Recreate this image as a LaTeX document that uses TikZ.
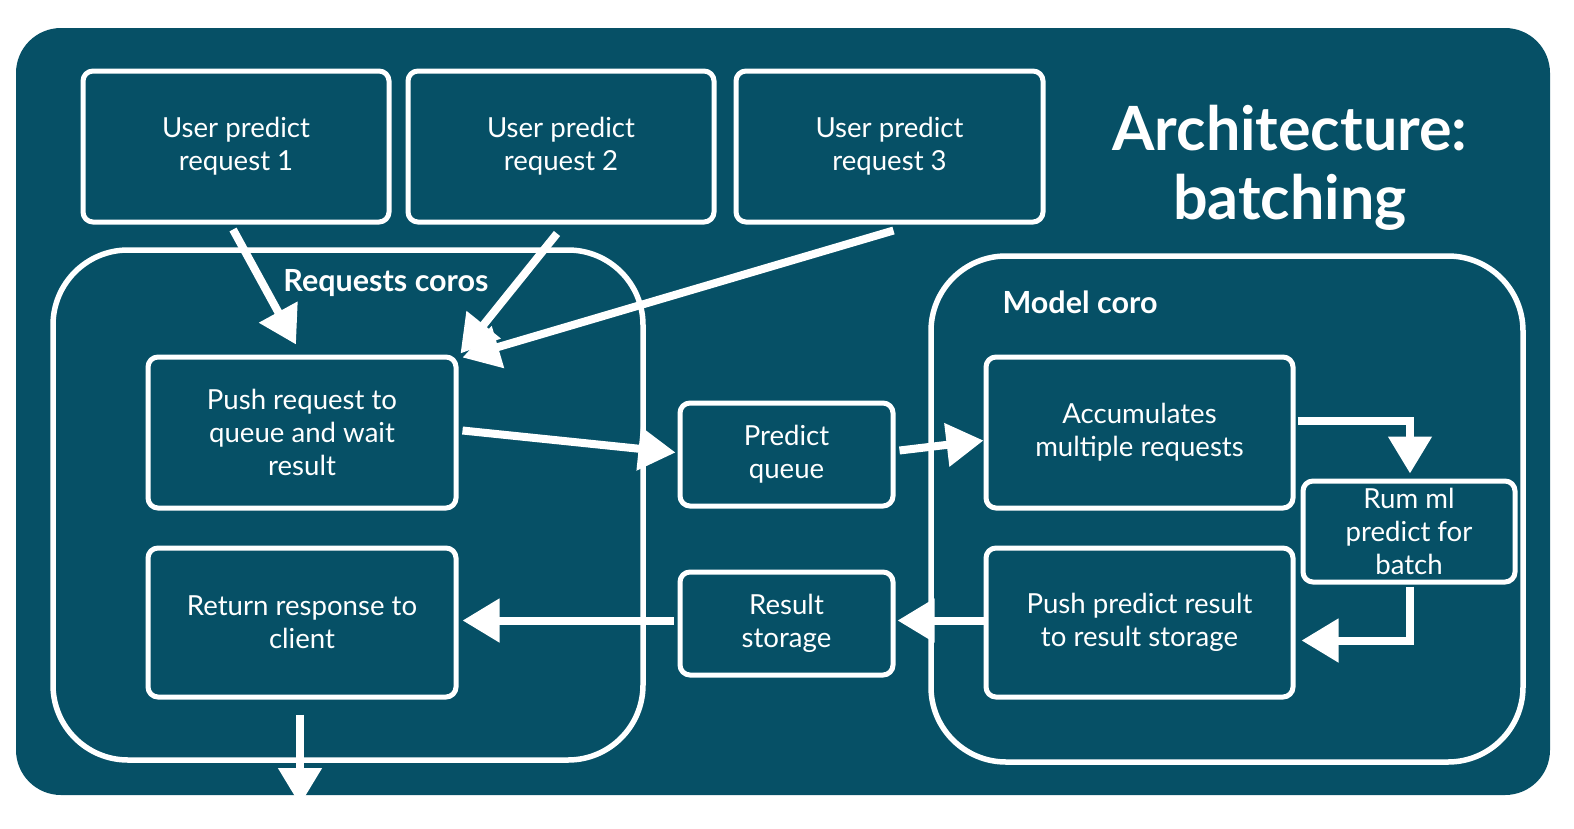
\documentclass[tikz,border=0pt]{standalone}
\usepackage{fontspec}
\setmainfont{Lato}
\usetikzlibrary{arrows.meta,calc}
\definecolor{teal}{HTML}{065066}
\tikzset{
  box/.style={draw=white, line width=5pt, rounded corners=10pt, text=white, align=center,
    font=\fontsize{27.6}{33}\selectfont, inner sep=0pt},
  group/.style={draw=white, line width=5.5pt, rounded corners=75pt},
  arr/.style={draw=white, line width=8pt, -{Triangle[width=42pt,length=37pt]}},
  lbl/.style={text=white, font=\bfseries\fontsize{30.5}{36}\selectfont, inner sep=0pt},
}
\begin{document}
\begin{tikzpicture}[x=1pt,y=-1pt]
\useasboundingbox (0,0) rectangle (1574,828);
\fill[teal, rounded corners=45pt] (16,28) rectangle (1550,795);
% containers
\draw[group] (53,250) rectangle (643,760);
\draw[group] (931,256) rectangle (1523,762);
\node[lbl] (rc) at (386,283) {Requests coros};
\node[lbl] (mc) at (1080,302) {Model coro};
\node[text=white, align=center, inner sep=0pt, font=\bfseries\fontsize{61}{69}\selectfont] (title) at (1290,168) {Architecture:\\batching};
% boxes
\node[box, minimum width=306pt, minimum height=151pt] (u1) at (236,146.5) {User predict\\request 1};
\node[box, minimum width=306pt, minimum height=151pt] (u2) at (561,146.5) {User predict\\request 2};
\node[box, minimum width=307pt, minimum height=151pt] (u3) at (889.5,146.5) {User predict\\request 3};
\node[box, minimum width=308pt, minimum height=151pt] (push) at (302,432.5) {Push request to\\queue and wait\\result};
\node[box, minimum width=308pt, minimum height=149pt] (ret) at (302,622.5) {Return response to\\client};
\node[box, minimum width=213pt, minimum height=103pt] (pq) at (786.5,454.5) {Predict\\queue};
\node[box, minimum width=213pt, minimum height=103pt] (rs) at (786.5,623.5) {Result\\storage};
\node[box, minimum width=307pt, minimum height=151pt] (acc) at (1139.5,432.5) {Accumulates\\multiple requests};
\node[box, minimum width=307pt, minimum height=149pt] (ppr) at (1139.5,622.5) {Push predict result\\to result storage};
\node[box, minimum width=212pt, minimum height=101pt] (rum) at (1409,531.5) {Rum ml\\predict for\\batch};
% connectors
\coordinate (out) at (300,805);
\draw[arr] ($(u1.south)+(-3,5)$) -- ($(push.north)+(-6,-10)$);
\draw[arr] ($(u2.south)+(-4,9)$) -- ($(push.north east)+(2,-1)$);
\draw[arr] ($(u3.south)+(4,6)$) -- ($(push.north east)+(4,3)$);
\draw[arr] ($(push.east)+(4,-2)$) -- ($(pq.west)+(-2,-2)$);
\draw[arr] ($(pq.east)+(4,-4)$) -- ($(acc.west)+(0,8)$);
\draw[arr] ($(acc.east)+(2,-12)$) -| ($(rum.north)+(1,-5)$);
\draw[arr] ($(rum.south)+(1,2)$) |- ($(ppr.east)+(6,18)$);
\draw[arr] ($(ppr.west)+(0,-2)$) -- ($(rs.east)+(2,-3)$);
\draw[arr] ($(rs.west)+(-4,-3)$) -- ($(ret.east)+(4,-2)$);
\draw[arr] ($(ret.south)+(-2,15)$) -- (out);
\end{tikzpicture}
\end{document}
